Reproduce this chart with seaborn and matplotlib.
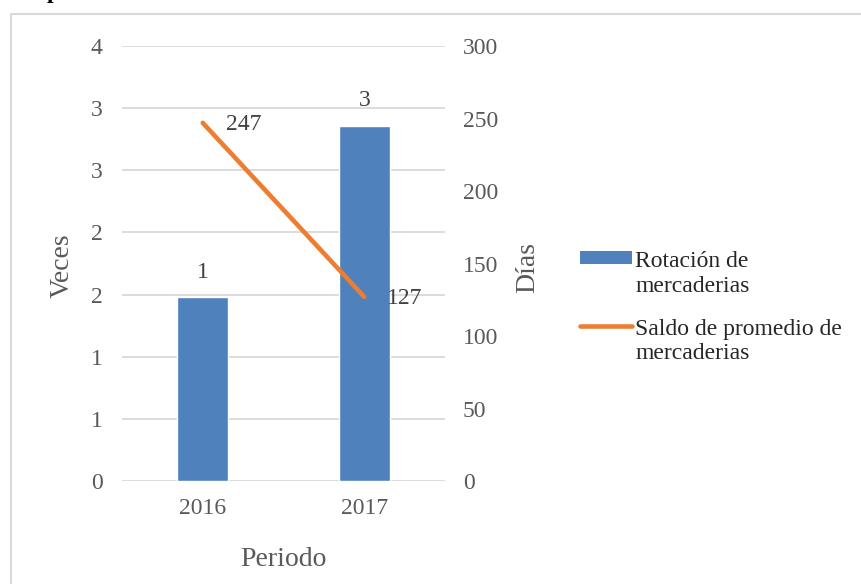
import numpy as np
import matplotlib
matplotlib.use("Agg")
import matplotlib.pyplot as plt
import seaborn as sns
from matplotlib.patches import Patch, Rectangle
from matplotlib.lines import Line2D
from matplotlib.legend_handler import HandlerPatch, HandlerLine2D

# ==========================================
# DATA
# ==========================================
periodos = ["2016", "2017"]
rotacion = [1.48, 2.86]          # Veces (left axis)
saldo_dias = [247, 127]          # Días (right axis)

veces_ticks = [0, 0.5, 1, 1.5, 2, 2.5, 3, 3.5]
veces_labels = ["0", "1", "1", "2", "2", "3", "3", "4"]
dias_ticks = [0, 50, 100, 150, 200, 250, 300]

label_rot = "Rotación de\nmercaderias"
label_saldo = "Saldo de promedio de\nmercaderias"

BLUE = "#4F81BD"
ORANGE = "#ED7D31"
GRID = "#D9D9D9"
TICK_COL = "#595959"
LABEL_COL = "#404040"
LEG_COL = "#262626"
FS = 17
FS_TITLE = 20

sns.set_theme(style="white")
plt.rcParams["font.family"] = ["Liberation Serif", "DejaVu Serif"]

fig = plt.figure(figsize=(8.61, 5.84), dpi=100)
ax = fig.add_axes([122 / 861, 1 - 481 / 584, 323 / 861, 435 / 584])

# bars
sns.barplot(x=periodos, y=rotacion, color=BLUE, width=0.315, ax=ax,
            saturation=1, zorder=3)
ax.set_xlim(-0.5, 1.5)
ax.set_ylim(0, 3.5)
ax.set_yticks(veces_ticks)
ax.set_yticklabels(veces_labels)
ax.yaxis.grid(True, color=GRID, lw=1.3, zorder=0)
ax.set_axisbelow(True)
for s in ax.spines.values():
    s.set_visible(False)
ax.tick_params(axis="both", length=0, labelsize=FS, colors=TICK_COL)
ax.tick_params(axis="y", pad=14)
ax.tick_params(axis="x", pad=12)

for i, v in enumerate(rotacion):
    ax.annotate(str(int(np.floor(v + 0.5))), (i, v), xytext=(0, 18),
                textcoords="offset points", ha="center", va="center",
                fontsize=FS, color=LABEL_COL)

ax.set_ylabel("Veces", fontsize=FS_TITLE, color=TICK_COL)
ax.yaxis.set_label_coords(-0.1455, 0.495)
ax.set_xlabel("Periodo", fontsize=FS_TITLE, color=TICK_COL)
ax.xaxis.set_label_coords(0.5, -0.152)

# line on secondary axis
ax2 = ax.twinx()
sns.lineplot(x=np.arange(len(periodos)), y=saldo_dias, color=ORANGE, lw=3.3,
             ax=ax2, solid_capstyle="round", zorder=4)
ax2.set_ylim(0, 300)
ax2.set_yticks(dias_ticks)
for s in ax2.spines.values():
    s.set_visible(False)
ax2.tick_params(axis="y", length=0, labelsize=FS, colors=TICK_COL, pad=13)
ax2.set_ylabel("Días", fontsize=FS_TITLE, color=TICK_COL)
ax2.yaxis.set_label_coords(1.217, 0.49)
ax.set_xlim(-0.5, 1.5)

for i, v in enumerate(saldo_dias):
    ax2.annotate(str(v), (i, v), xytext=(16.5, -1.5),
                 textcoords="offset points", ha="left", va="center",
                 fontsize=FS, color=LABEL_COL)


# legend: keys aligned with the first line of each label
class UpPatch(HandlerPatch):
    def create_artists(self, legend, orig_handle, xdescent, ydescent,
                       width, height, fontsize, trans):
        arts = super().create_artists(legend, orig_handle, xdescent, ydescent,
                                      width, height, fontsize, trans)
        for a in arts:
            a.set_y(a.get_y() + 0.68 * fontsize)
        return arts


class UpLine(HandlerLine2D):
    def create_artists(self, legend, orig_handle, xdescent, ydescent,
                       width, height, fontsize, trans):
        arts = super().create_artists(legend, orig_handle, xdescent, ydescent,
                                      width, height, fontsize, trans)
        for a in arts:
            a.set_ydata(np.asarray(a.get_ydata()) + 0.68 * fontsize)
        return arts


h_bar = Patch(facecolor=BLUE, edgecolor="none")
h_line = Line2D([], [], color=ORANGE, lw=3.3, solid_capstyle="round")
leg = fig.legend([h_bar, h_line], [label_rot, label_saldo],
                 loc="upper left", bbox_to_anchor=(580 / 861, 1 - 251 / 584),
                 frameon=False, fontsize=FS, borderpad=0, borderaxespad=0,
                 handlelength=2.2, handleheight=0.45, handletextpad=0.15,
                 labelspacing=0.95,
                 handler_map={Patch: UpPatch(), Line2D: UpLine()})
for t in leg.get_texts():
    t.set_color(LEG_COL)
    t.set_linespacing(1.22)

# chart border and cut title glyph
fig.add_artist(Rectangle((11 / 861, -0.2), 2, 0.2 + 1 - 14 / 584,
                         transform=fig.transFigure, fill=False,
                         edgecolor=GRID, lw=1.5))
fig.text(47 / 861, 1 + 2 / 584, "p", fontsize=FS, fontweight="bold",
         color="black", va="baseline", ha="left")

fig.savefig("out.png", dpi=100)
